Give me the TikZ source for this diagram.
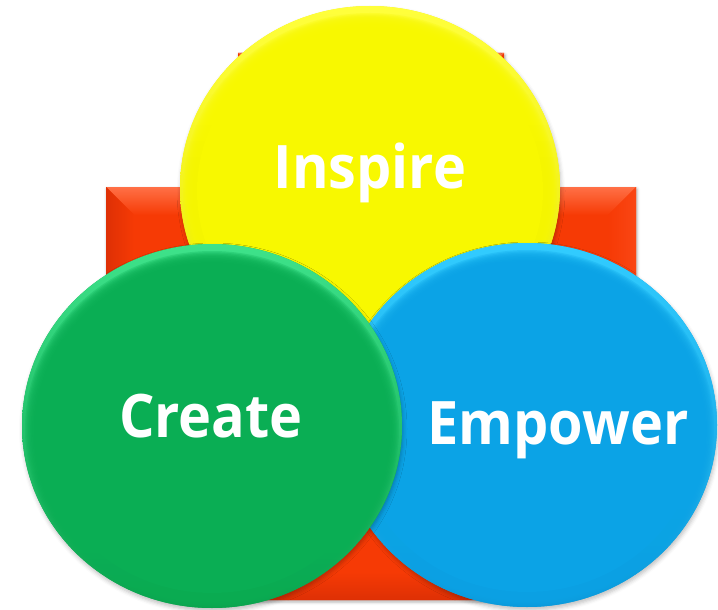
\documentclass[tikz,border=0pt]{standalone}
\usepackage{fontspec}
\setmainfont{Open Sans}
\usetikzlibrary{shadows.blur}
\definecolor{redmain}{RGB}{246,58,5}
\definecolor{redlight}{RGB}{255,112,70}
\definecolor{reddark}{RGB}{222,48,5}
\definecolor{redright}{RGB}{250,70,20}
\definecolor{ylwmain}{RGB}{248,248,0}
\definecolor{ylwlight}{RGB}{255,255,60}
\definecolor{ylwdark}{RGB}{232,232,0}
\definecolor{grnmain}{RGB}{10,174,84}
\definecolor{grnlight}{RGB}{62,226,138}
\definecolor{grndark}{RGB}{10,164,78}
\definecolor{blumain}{RGB}{11,163,230}
\definecolor{blulight}{RGB}{50,204,255}
\definecolor{bludark}{RGB}{10,154,220}
\newcommand\myball[5]{%
  \fill[#3, blur shadow={shadow xshift=1pt,shadow yshift=-3pt,shadow blur radius=4pt,shadow opacity=25}]
    (#1,#2) ellipse [x radius=190, y radius=182];
  \shade[top color=#4, bottom color=#5] (#1,#2) ellipse [x radius=190, y radius=182];
  \foreach \k in {0,...,9} {
    \fill[#3, opacity=0.28] (#1,#2+3) ellipse [x radius=187-\k*1.3, y radius=178-\k*1.3];
  }
  \fill[#3] (#1,#2+3) ellipse [x radius=173, y radius=164];
}
\begin{document}
\begin{tikzpicture}[x=1pt,y=-1pt,
  lbl/.style={text=white,font=\fontsize{60}{60}\selectfont\bfseries,anchor=base,inner sep=0pt,xscale=0.93}]
\useasboundingbox (0,0) rectangle (718,610);
% red plus shape
\fill[redmain, blur shadow={shadow xshift=1pt,shadow yshift=-2pt,shadow blur radius=3pt,shadow opacity=30}]
  (238,53) -- (504,53) -- (504,187) -- (636,187) -- (636,467) -- (504,467) -- (504,600)
  -- (238,600) -- (238,467) -- (106,467) -- (106,187) -- (238,187) -- cycle;
\shade[top color=redlight,bottom color=redmain] (238,53) -- (504,53) -- (476,81) -- (266,81) -- cycle;
\shade[top color=redlight,bottom color=redmain] (106,187) -- (238,187) -- (238,215) -- (134,215) -- cycle;
\shade[left color=reddark,right color=redmain] (106,187) -- (134,215) -- (134,439) -- (106,467) -- cycle;
\shade[top color=redlight,bottom color=redmain] (504,187) -- (636,187) -- (608,215) -- (504,215) -- cycle;
\shade[left color=redmain,right color=redright] (636,187) -- (636,467) -- (608,439) -- (608,215) -- cycle;
\shade[top color=redmain,bottom color=reddark] (238,600) -- (504,600) -- (476,572) -- (266,572) -- cycle;
% circles
\myball{370}{188}{ylwmain}{ylwlight}{ylwdark}
\myball{527}{425}{blumain}{blulight}{bludark}
\myball{212}{426}{grnmain}{grnlight}{grndark}
% labels
\node[lbl] (inspire) at (370,188) {Inspire};
\node[lbl] (create) at (211,437) {Create};
\node[lbl] (empower) at (558,444) {Empower};
\end{tikzpicture}
\end{document}
